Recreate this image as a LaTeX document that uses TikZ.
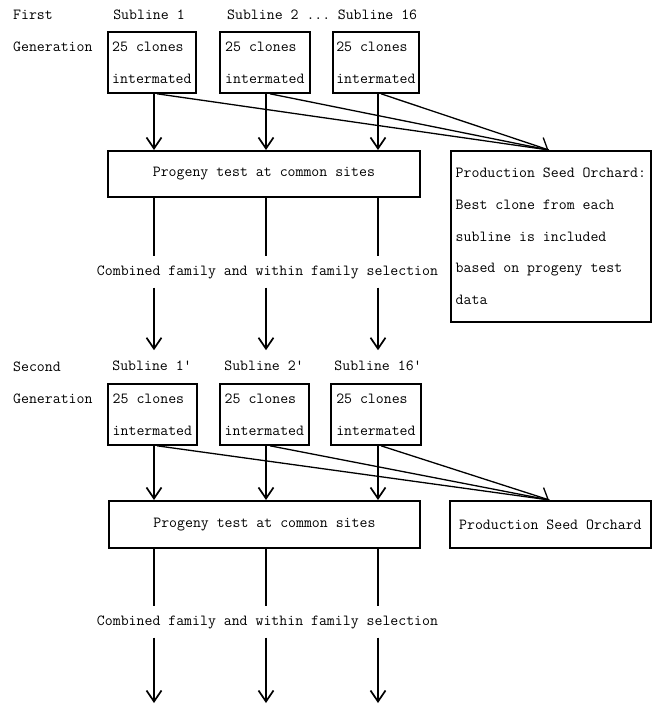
\documentclass[tikz,border=0pt]{standalone}
\usepackage{fontspec}
\usetikzlibrary{arrows.meta,calc}
\newcommand\twfont{\ttfamily\fontsize{15.4}{17}\selectfont\addfontfeatures{FakeBold=1.1}}
\begin{document}
\begin{tikzpicture}[x=1pt,y=-1pt,
  every node/.style={font=\twfont, inner sep=0pt},
  box/.style={draw, line width=1.8pt},
  clonebox/.style={box, anchor=north west, minimum height=61pt, minimum width=#1, align=left},
  wide/.style={box, anchor=north west},
  lbl/.style={anchor=base},
  lblw/.style={anchor=base west},
  sublbl/.style={anchor=base, inner ysep=10pt},
  sel/.style={anchor=base, inner ysep=9pt},
  arr/.style={line width=1.7pt, -{Straight Barb[length=11pt,width=15pt]}},
  seg/.style={line width=1.7pt},
  diag/.style={line width=1.3pt},
  diagtip/.style={line width=1.3pt, -{Straight Barb[harpoon,length=8pt,width=20pt]}}]
\useasboundingbox (0,0) rectangle (656,706);

\coordinate (xa) at (154,0);
\coordinate (xb) at (266,0);
\coordinate (xc) at (378,0);

% ---------- First generation ----------
\node[lblw] (first) at (13,20) {First};
\node[lblw] (gen1) at (13,52) {Generation};
\node[lbl] (s1) at (149,20) {Subline 1};
\node[lblw] (s2) at (227,20) {Subline 2 ...};
\node[lbl] (s16) at (377.5,20) {Subline 16};

\node[clonebox=88pt] (A1) at (107,31) {25 clones\\[15pt]intermated};
\node[clonebox=90pt] (A2) at (219,31) {25 clones\\[15pt]intermated};
\node[clonebox=86pt] (A3) at (332,31) {25 clones\\[15pt]intermated};

\node[wide, minimum width=312pt, minimum height=46pt] (P1) at (107,150) {Progeny test at common sites};
\node[wide, minimum width=200pt, minimum height=171pt, align=left] (O1) at (450,150)
  {Production Seed Orchard:\\[14.8pt]Best clone from each\\[14.8pt]subline is included\\[14.8pt]based on progeny test\\[14.8pt]data};

\draw[arr] (xa |- A1.south) -- (xa |- P1.north);
\draw[arr] (xb |- A2.south) -- (xb |- P1.north);
\draw[arr] (xc |- A3.south) -- (xc |- P1.north);

\draw[diag] ($(xa |- A1.south)+(3,0)$) -- ($(O1.north)+(-2,0)$);
\draw[diag] ($(xb |- A2.south)+(4,0)$) -- ($(O1.north)+(-2,0)$);
\draw[diagtip] ($(xc |- A3.south)+(3,0)$) -- ($(O1.north)+(-2,0)$);

\node[sel] (C1) at (267.5,275) {Combined family and within family selection};

\node[sublbl] (t1) at (152,370) {Subline 1'};
\node[sublbl] (t2) at (264,370) {Subline 2'};
\node[sublbl] (t16) at (378,370) {Subline 16'};

\draw[seg] (xa |- P1.south) -- (xa |- C1.north);
\draw[seg] (xb |- P1.south) -- (xb |- C1.north);
\draw[seg] (xc |- P1.south) -- (xc |- C1.north);
\draw[arr] (xa |- C1.south) -- (xa |- t1.north);
\draw[arr] (xb |- C1.south) -- (xb |- t2.north);
\draw[arr] (xc |- C1.south) -- (xc |- t16.north);

% ---------- Second generation ----------
\node[lblw] (second) at (13,371) {Second};
\node[lblw] (gen2) at (13,403) {Generation};

\node[clonebox=89pt] (B1) at (107,383) {25 clones\\[15pt]intermated};
\node[clonebox=89pt] (B2) at (219,383) {25 clones\\[15pt]intermated};
\node[clonebox=90pt] (B3) at (330,383) {25 clones\\[15pt]intermated};

\node[wide, minimum width=311pt, minimum height=47pt] (P2) at (108,500) {Progeny test at common sites};
\node[wide, minimum width=201pt, minimum height=47pt] (O2) at (449,500) {Production Seed Orchard};

\draw[arr] (xa |- B1.south) -- (xa |- P2.north);
\draw[arr] (xb |- B2.south) -- (xb |- P2.north);
\draw[arr] (xc |- B3.south) -- (xc |- P2.north);

\draw[diag] ($(xa |- B1.south)+(3,0)$) -- ($(O2.north)+(-1,0)$);
\draw[diag] ($(xb |- B2.south)+(4,0)$) -- ($(O2.north)+(-1,0)$);
\draw[diagtip] ($(xc |- B3.south)+(3,0)$) -- ($(O2.north)+(-1,0)$);

\node[sel] (C2) at (267.5,625) {Combined family and within family selection};

\coordinate (e1) at (154,703);
\coordinate (e2) at (266,703);
\coordinate (e3) at (378,703);

\draw[seg] (xa |- P2.south) -- (xa |- C2.north);
\draw[seg] (xb |- P2.south) -- (xb |- C2.north);
\draw[seg] (xc |- P2.south) -- (xc |- C2.north);
\draw[arr] (xa |- C2.south) -- (e1);
\draw[arr] (xb |- C2.south) -- (e2);
\draw[arr] (xc |- C2.south) -- (e3);
\end{tikzpicture}
\end{document}
